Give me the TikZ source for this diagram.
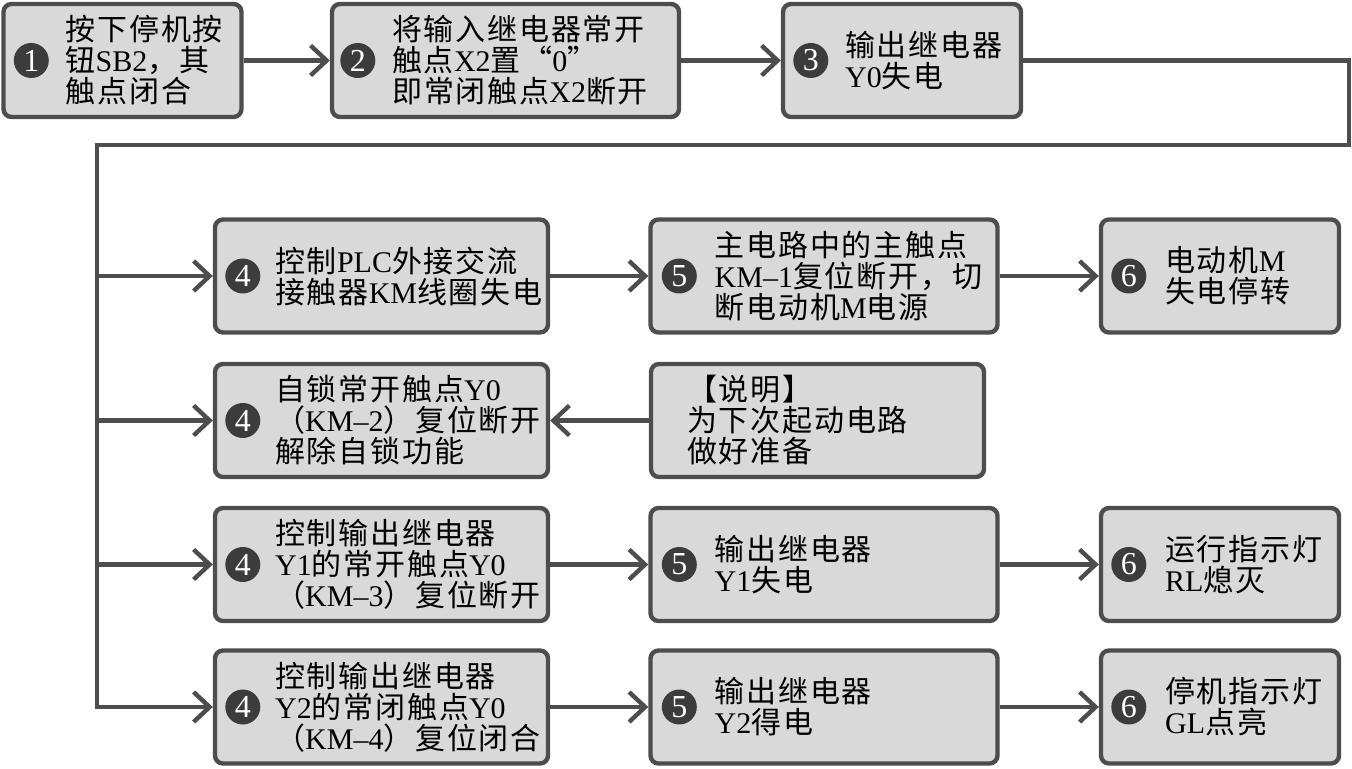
\documentclass[tikz,border=0pt]{standalone}
\usepackage{fontspec}
\setmainfont{Liberation Serif}
\newfontfamily\cjk[LetterSpace=6]{Noto Sans CJK SC}
\usepackage{xcolor}
\usetikzlibrary{arrows.meta,positioning}

% Chinese characters in Noto, everything else in Liberation Serif
\XeTeXinterchartokenstate=1
\newXeTeXintercharclass\cjkclass
\newcount\cjkcode
\def\setcjkrange#1#2{\cjkcode=#1\relax
  \loop\XeTeXcharclass\cjkcode=\cjkclass\advance\cjkcode by 1\relax
  \ifnum\cjkcode<#2\relax\repeat}
\setcjkrange{"4E00}{"A000}
\setcjkrange{"3000}{"3040}
\setcjkrange{"FF00}{"FFF0}
\XeTeXcharclass"201C=\cjkclass
\XeTeXcharclass"201D=\cjkclass
\XeTeXinterchartoks 0 \cjkclass = {\cjk}
\XeTeXinterchartoks 4095 \cjkclass = {\cjk}
\XeTeXinterchartoks \cjkclass 0 = {\rmfamily}
\XeTeXinterchartoks \cjkclass 4095 = {\rmfamily}

\definecolor{boxfill}{HTML}{D9D9D9}
\definecolor{edgegray}{HTML}{4D4D4D}
\definecolor{dotgray}{HTML}{3C3C3C}

\begin{document}
\begin{tikzpicture}[
  x=0.5pt, y=-0.5pt,
  stepbox/.style={
    rectangle,
    rounded corners=4pt,
    draw=edgegray,
    line width=2.2pt,
    fill=boxfill,
    minimum height=56.5pt
  },
  narrow/.style={stepbox, minimum width=119pt},
  medium/.style={stepbox, minimum width=166.5pt},
  wide/.style={stepbox, minimum width=173.5pt},
  num/.style={circle, fill=dotgray, text=white, inner sep=0pt,
    minimum size=17.5pt, font=\fontsize{16}{16}\selectfont},
  txt/.style={anchor=west, align=left, inner sep=0pt,
    font=\fontsize{15}{15.5}\selectfont},
  link/.style={draw=edgegray, line width=2.2pt},
  arr/.style={link, -{Straight Barb[length=8pt, width=15pt]}}
]
\useasboundingbox (0,0) rectangle (1352,769);

% top row
\node[narrow] (b1) at (122.5,60.5) {};
\node[num] (n1) at ([xshift=15pt]b1.west) {1};
\node[txt] (t1) at ([xshift=32pt]b1.west) {按下停机按\\钮SB2，其\\触点闭合};
\node[wide] (b2) at (505.5,60.5) {};
\node[num] (n2) at ([xshift=14pt]b2.west) {2};
\node[txt] (t2) at ([xshift=31pt]b2.west) {将输入继电器常开\\触点X2置“0”\\即常闭触点X2断开};
\node[narrow] (b3) at (902,60.5) {};
\node[num] (n3) at ([xshift=15pt]b3.west) {3};
\node[txt] (t3) at ([xshift=32pt]b3.west) {输出继电器\\Y0失电};

% row 2
\node[medium] (b4a) at (381.5,276) {};
\node[num] (n4a) at ([xshift=15pt]b4a.west) {4};
\node[txt] (t4a) at ([xshift=31pt]b4a.west) {控制PLC外接交流\\接触器KM线圈失电};
\node[wide] (b5a) at (824,276) {};
\node[num] (n5a) at ([xshift=15.5pt]b5a.west) {5};
\node[txt] (t5a) at ([xshift=33pt]b5a.west) {主电路中的主触点\\KM–1复位断开，切\\断电动机M电源};
\node[narrow] (b6a) at (1220,276) {};
\node[num] (n6a) at ([xshift=15pt]b6a.west) {6};
\node[txt] (t6a) at ([xshift=33pt]b6a.west) {电动机M\\失电停转};

% row 3
\node[medium] (b4b) at (381.5,420.5) {};
\node[num] (n4b) at ([xshift=15pt]b4b.west) {4};
\node[txt] (t4b) at ([xshift=31pt]b4b.west) {自锁常开触点Y0\\（KM–2）复位断开\\解除自锁功能};
\node[medium] (note) at (817.5,420.5) {};
\node[txt] (tnote) at ([xshift=19pt]note.west) {【说明】\\为下次起动电路\\做好准备};

% row 4
\node[medium] (b4c) at (381.5,564.5) {};
\node[num] (n4c) at ([xshift=15pt]b4c.west) {4};
\node[txt] (t4c) at ([xshift=31pt]b4c.west) {控制输出继电器\\Y1的常开触点Y0\\（KM–3）复位断开};
\node[wide] (b5c) at (824,564.5) {};
\node[num] (n5c) at ([xshift=15.5pt]b5c.west) {5};
\node[txt] (t5c) at ([xshift=33pt]b5c.west) {输出继电器\\Y1失电};
\node[narrow] (b6c) at (1220,564.5) {};
\node[num] (n6c) at ([xshift=15pt]b6c.west) {6};
\node[txt] (t6c) at ([xshift=33pt]b6c.west) {运行指示灯\\RL熄灭};

% row 5
\node[medium] (b4d) at (381.5,707) {};
\node[num] (n4d) at ([xshift=15pt]b4d.west) {4};
\node[txt] (t4d) at ([xshift=31pt]b4d.west) {控制输出继电器\\Y2的常闭触点Y0\\（KM–4）复位闭合};
\node[wide] (b5d) at (824,707) {};
\node[num] (n5d) at ([xshift=15.5pt]b5d.west) {5};
\node[txt] (t5d) at ([xshift=33pt]b5d.west) {输出继电器\\Y2得电};
\node[narrow] (b6d) at (1220,707) {};
\node[num] (n6d) at ([xshift=15pt]b6d.west) {6};
\node[txt] (t6d) at ([xshift=33pt]b6d.west) {停机指示灯\\GL点亮};

% connectors
\coordinate (ne) at (1349,60.5);
\coordinate (nw) at (97,145);
\draw[arr] (b1) -- (b2);
\draw[arr] (b2) -- (b3);
\draw[arr] (b3) -- (ne) |- (nw) |- (b4d);
\draw[arr] (nw |- b4a) -- (b4a);
\draw[arr] (nw |- b4b) -- (b4b);
\draw[arr] (nw |- b4c) -- (b4c);
\draw[arr] (b4a) -- (b5a);
\draw[arr] (b5a) -- (b6a);
\draw[arr] (note) -- (b4b);
\draw[arr] (b4c) -- (b5c);
\draw[arr] (b5c) -- (b6c);
\draw[arr] (b4d) -- (b5d);
\draw[arr] (b5d) -- (b6d);
\end{tikzpicture}
\end{document}
